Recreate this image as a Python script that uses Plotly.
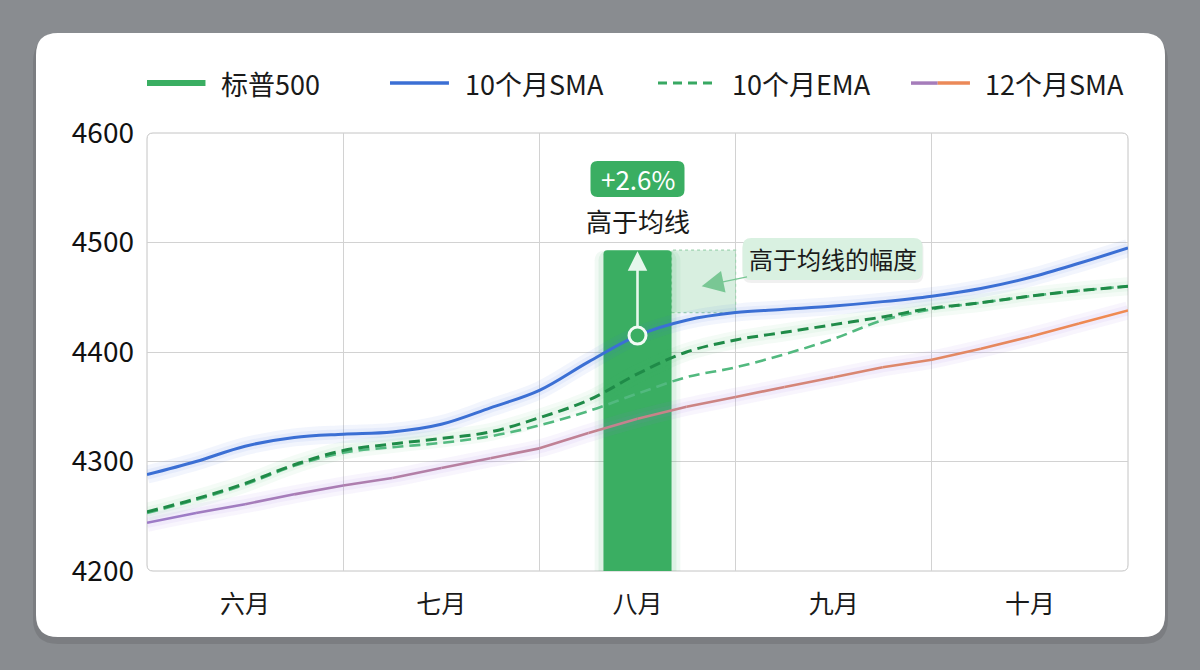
"""标普500 与均线对比图：八月收盘高于 10 个月均线的幅度。"""

import plotly.graph_objects as go

# ---- 数据 ----
MONTHS = ["六月", "七月", "八月", "九月", "十月"]
MONTH_POS = [0, 1, 2, 3, 4]
# 均线按四分之一个月取样（-0.5 = 六月初，4.5 = 十月末）
LINE_X = [-0.5, -0.25, 0, 0.25, 0.5, 0.75, 1, 1.25, 1.5, 1.75, 2,
          2.25, 2.5, 2.75, 3, 3.25, 3.5, 3.75, 4, 4.25, 4.5]
SMA10 = [4288, 4300, 4314, 4322, 4325, 4327, 4334, 4349, 4365, 4391, 4415,
         4429, 4436, 4439, 4442, 4446, 4451, 4458, 4468, 4481, 4495]
EMA10 = [4254, 4266, 4280, 4297, 4310, 4316, 4321, 4327, 4340, 4356, 4380,
         4400, 4411, 4418, 4425, 4432, 4440, 4445, 4451, 4456, 4460]
EMA10_B = [4253, 4265, 4279, 4296, 4308, 4313, 4317, 4323, 4333, 4346, 4362,
           4377, 4386, 4398, 4412, 4429, 4439, 4445, 4451, 4456, 4460]
SMA12 = [4244, 4253, 4261, 4270, 4278, 4285, 4294, 4303, 4312, 4326, 4339,
         4350, 4359, 4368, 4377, 4386, 4393, 4403, 4414, 4426, 4438]
SP500_MONTH = "八月"
SP500_VALUE = 4493
GAP_TEXT = "+2.6%"
Y_TICKS = [4200, 4300, 4400, 4500, 4600]
SERIES_NAMES = ["标普500", "10个月SMA", "10个月EMA", "12个月SMA"]

# ---- 样式 ----
FONT = "Noto Sans CJK SC"
BG = "#898c90"
GREEN = "#3aae62"
BLUE = "#3b6fd4"
DARK_GREEN = "#1f8b48"
LIGHT_GREEN = "#52b97f"
PURPLE = (157, 123, 198)
ORANGE = (239, 138, 82)
GRID = "#d2d2d2"
BAR_W = 0.347

W, H = 1200, 670
ML, MR, MT, MB = 147, 72, 133, 99
PW, PH = W - ML - MR, H - MT - MB


def rr(x0, y0, x1, y1, r):
    """圆角矩形路径（像素，y 向上）。"""
    return (f"M{x0 + r},{y0} L{x1 - r},{y0} Q{x1},{y0} {x1},{y0 + r} "
            f"L{x1},{y1 - r} Q{x1},{y1} {x1 - r},{y1} L{x0 + r},{y1} "
            f"Q{x0},{y1} {x0},{y1 - r} L{x0},{y0 + r} Q{x0},{y0} {x0 + r},{y0} Z")


def mix(c0, c1, t):
    return "rgb(%d,%d,%d)" % tuple(round(a + (b - a) * t) for a, b in zip(c0, c1))


bar_x = MONTH_POS[MONTHS.index(SP500_MONTH)]
sma_at_bar = SMA10[LINE_X.index(bar_x)]
sma_at_edge = SMA10[LINE_X.index(bar_x + 0.5)]

fig = go.Figure()

# 柱子光晕 + 柱子
for extra, alpha in [(0.09, 0.07), (0.05, 0.10)]:
    fig.add_trace(go.Bar(x=[bar_x], y=[SP500_VALUE], width=BAR_W + extra,
                         marker=dict(color=f"rgba(58,174,98,{alpha})", line_width=0, cornerradius=10),
                         hoverinfo="skip", showlegend=False))
fig.add_trace(go.Bar(x=[bar_x], y=[SP500_VALUE], width=BAR_W, name=SERIES_NAMES[0],
                     marker=dict(color=GREEN, line_width=0, cornerradius=4),
                     showlegend=False))
fig.update_layout(barmode="overlay")

# 均线光晕
for ys, col in [(SMA10, "rgba(70,110,230,0.07)"), (EMA10, "rgba(60,180,110,0.06)"),
                (SMA12, "rgba(150,110,220,0.07)")]:
    for wd in (18, 10):
        fig.add_trace(go.Scatter(x=LINE_X, y=ys, mode="lines", hoverinfo="skip", showlegend=False,
                                 line=dict(color=col, width=wd, shape="spline")))

# 12个月SMA：紫色渐变到橙色
n = len(LINE_X)
for i in range(n - 1):
    fig.add_trace(go.Scatter(x=LINE_X[i:i + 2], y=SMA12[i:i + 2], mode="lines",
                             line=dict(color=mix(PURPLE, ORANGE, i / (n - 2)), width=2.6),
                             name=SERIES_NAMES[3], showlegend=False, hoverinfo="skip"))

fig.add_trace(go.Scatter(x=LINE_X, y=EMA10_B, mode="lines", showlegend=False,
                         line=dict(color=LIGHT_GREEN, width=2.6, dash="11px,6px", shape="spline")))
fig.add_trace(go.Scatter(x=LINE_X, y=EMA10, mode="lines", name=SERIES_NAMES[2], showlegend=False,
                         line=dict(color=DARK_GREEN, width=3, dash="11px,6px", shape="spline")))
fig.add_trace(go.Scatter(x=LINE_X, y=SMA10, mode="lines", name=SERIES_NAMES[1], showlegend=False,
                         line=dict(color=BLUE, width=3, shape="spline")))

# 八月均线位置的圆点
fig.add_trace(go.Scatter(x=[bar_x], y=[sma_at_bar], mode="markers", showlegend=False,
                         marker=dict(size=17, color=GREEN, line=dict(color="#f2fbf5", width=3))))

shapes = []
# 卡片阴影与卡片
shapes.append(dict(type="path", xref="paper", yref="paper", xsizemode="pixel", ysizemode="pixel",
                   xanchor=0, yanchor=0, path=rr(-114, -73, 1021, 534, 25),
                   fillcolor="rgba(0,0,0,0.10)", line_width=0, layer="below"))
shapes.append(dict(type="path", xref="paper", yref="paper", xsizemode="pixel", ysizemode="pixel",
                   xanchor=0, yanchor=0, path=rr(-111, -66, 1018, 538, 22),
                   fillcolor="white", line_width=0, layer="below"))
# 绘图区边框
shapes.append(dict(type="path", xref="paper", yref="paper", xsizemode="pixel", ysizemode="pixel",
                   xanchor=0, yanchor=0, path=rr(0, 0, PW, PH, 6),
                   fillcolor="rgba(0,0,0,0)", line=dict(color="#c4c4c4", width=1), layer="below"))
# 高于均线的幅度区域
shapes.append(dict(type="rect", xref="x", yref="y", x0=bar_x + BAR_W / 2, x1=bar_x + 0.5,
                   y0=sma_at_edge, y1=SP500_VALUE, fillcolor="rgba(58,174,98,0.2)",
                   line=dict(color="#9fd3b0", width=1.2, dash="3px,3px"), layer="between"))
# +2.6% 标签底框
shapes.append(dict(type="path", xref="x", yref="y", xsizemode="pixel", ysizemode="pixel",
                   xanchor=bar_x, yanchor=4558, path=rr(-47, -18, 47, 18, 7),
                   fillcolor=GREEN, line_width=0, layer="above"))
# 说明框阴影与底框
callout_x, callout_y = bar_x + 0.994, 4485
shapes.append(dict(type="path", xref="x", yref="y", xsizemode="pixel", ysizemode="pixel",
                   xanchor=callout_x, yanchor=callout_y, path=rr(-90, -24, 91, 20, 9),
                   fillcolor="rgba(0,0,0,0.06)", line_width=0, layer="above"))
shapes.append(dict(type="path", xref="x", yref="y", xsizemode="pixel", ysizemode="pixel",
                   xanchor=callout_x, yanchor=callout_y, path=rr(-90, -21, 90, 21, 9),
                   fillcolor="#d9f1e1", line_width=0, layer="above"))

# 自定义图例
LEG_Y = 1.114
leg = [(0.0, 0.0596, GREEN, 6, None), (0.2477, 0.3078, BLUE, 3.5, None),
       (0.5209, 0.5815, "#38a862", 3, "9px,6px")]
for x0, x1, col, wd, dash in leg:
    shapes.append(dict(type="line", xref="paper", yref="paper", x0=x0, x1=x1, y0=LEG_Y, y1=LEG_Y,
                       line=dict(color=col, width=wd, dash=dash)))
shapes.append(dict(type="line", xref="paper", yref="paper", x0=0.7788, x1=0.806, y0=LEG_Y, y1=LEG_Y,
                   line=dict(color=mix(PURPLE, ORANGE, 0.1), width=3.5)))
shapes.append(dict(type="line", xref="paper", yref="paper", x0=0.806, x1=0.8389, y0=LEG_Y, y1=LEG_Y,
                   line=dict(color=mix(PURPLE, ORANGE, 0.95), width=3.5)))

annotations = []
for name, xp in zip(SERIES_NAMES, [0.0734, 0.3221, 0.5943, 0.8522]):
    annotations.append(dict(xref="paper", yref="paper", x=xp, y=LEG_Y, text=name, showarrow=False,
                            xanchor="left", yanchor="middle",
                            font=dict(family=FONT, size=27, color="#1a1a1a")))

# 从均线指向收盘价的箭头
annotations.append(dict(x=bar_x, y=SP500_VALUE - 1, ax=bar_x, ay=sma_at_bar + 7,
                        axref="x", ayref="y", xref="x", yref="y", text="", showarrow=True,
                        arrowhead=2, arrowsize=1.5, arrowwidth=2.6, arrowcolor="#e6f7ec"))
annotations.append(dict(x=bar_x, y=4558, text=GAP_TEXT, showarrow=False,
                        font=dict(family=FONT, size=26, color="white")))
annotations.append(dict(x=bar_x, y=4520, text="高于均线", showarrow=False,
                        font=dict(family=FONT, size=26, color="#1a1a1a")))
annotations.append(dict(x=bar_x + 0.327, y=4460, ax=callout_x, ay=callout_y, axref="x", ayref="y",
                        text="高于均线的幅度", showarrow=True, arrowhead=2, arrowsize=3.4,
                        arrowwidth=1.3, arrowcolor="#79c794",
                        font=dict(family=FONT, size=24, color="#1a1a1a")))

fig.update_layout(
    width=W, height=H, margin=dict(l=ML, r=MR, t=MT, b=MB),
    paper_bgcolor=BG, plot_bgcolor="white", showlegend=False,
    font=dict(family=FONT, color="#1a1a1a"),
    shapes=shapes, annotations=annotations,
    xaxis=dict(range=[-0.5, 4.5], tickvals=MONTH_POS, ticktext=MONTHS, showgrid=False,
               zeroline=False, showline=False, ticks="", ticklabelstandoff=16,
               tickfont=dict(family=FONT, size=25, color="#1a1a1a"),
               minor=dict(tickvals=[0.5, 1.5, 2.5, 3.5], showgrid=True, gridcolor=GRID,
                          gridwidth=1, ticks="")),
    yaxis=dict(range=[Y_TICKS[0], Y_TICKS[-1]], tickvals=Y_TICKS, showgrid=True, gridcolor=GRID,
               zeroline=False, showline=False, ticks="", ticklabelstandoff=12,
               tickfont=dict(family=FONT, size=28, color="#111111")),
)

# 页面默认有 8px 外边距，去掉以便图表铺满窗口
fig.write_html("out.html", config={"displayModeBar": False},
               post_script="document.body.style.margin='0';")
